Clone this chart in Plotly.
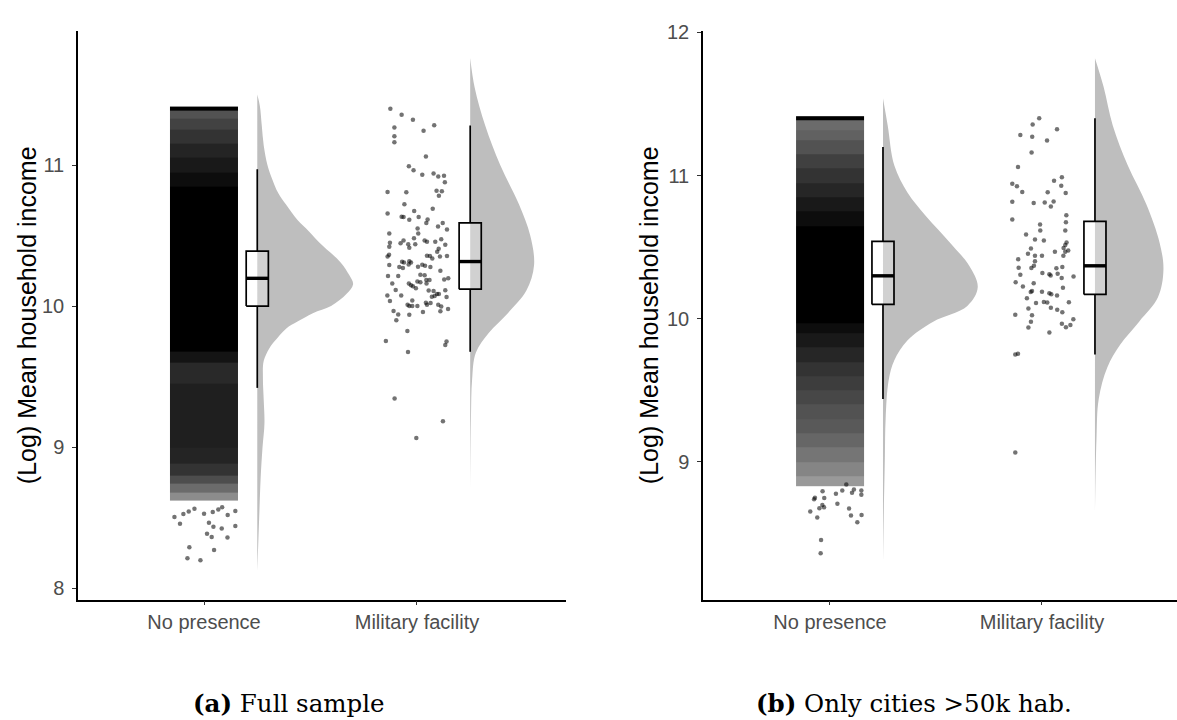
import plotly.graph_objects as go

# ---------------- data ----------------
categories = ["No presence", "Military facility"]
cat_pos = [1, 2]

# box statistics [No presence, Military facility]
a_box_lo = [9.42, 9.676]
a_box_q1 = [10.00, 10.12]
a_box_med = [10.197, 10.316]
a_box_q3 = [10.39, 10.59]
a_box_hi = [10.97, 11.28]

b_box_lo = [9.44, 9.75]
b_box_q1 = [10.10, 10.17]
b_box_med = [10.30, 10.37]
b_box_q3 = [10.54, 10.68]
b_box_hi = [11.20, 11.40]

# half-violin densities (relative width)
a_np_vy = [8.12, 8.5, 8.78, 9.0, 9.17, 9.34, 9.48, 9.61, 9.70, 9.75, 9.84, 9.89, 9.95, 10.0, 10.085, 10.155, 10.22, 10.31, 10.45, 10.53, 10.61, 10.72, 10.8, 10.92, 11.0, 11.14, 11.28, 11.42, 11.5]
a_np_vd = [0.0, 0.02, 0.035, 0.055, 0.075, 0.067, 0.059, 0.067, 0.125, 0.18, 0.30, 0.42, 0.58, 0.77, 0.93, 1.0, 0.96, 0.87, 0.65, 0.54, 0.42, 0.30, 0.22, 0.145, 0.106, 0.067, 0.047, 0.027, 0.0]
a_mil_vy = [8.70, 9.2, 9.48, 9.67, 9.81, 9.95, 10.11, 10.29, 10.5, 10.72, 11.0, 11.28, 11.55, 11.76]
a_mil_vd = [0.0, 0.012, 0.03, 0.088, 0.29, 0.59, 0.88, 1.0, 0.94, 0.765, 0.47, 0.235, 0.07, 0.0]
b_np_vy = [8.29, 8.62, 9.03, 9.30, 9.57, 9.71, 9.85, 9.98, 10.09, 10.22, 10.37, 10.53, 10.72, 10.88, 11.07, 11.35, 11.54]
b_np_vd = [0.0, 0.008, 0.02, 0.028, 0.06, 0.12, 0.26, 0.53, 0.89, 1.0, 0.91, 0.71, 0.45, 0.26, 0.12, 0.05, 0.0]
b_mil_vy = [8.65, 9.16, 9.44, 9.66, 9.82, 9.98, 10.15, 10.34, 10.53, 10.80, 11.07, 11.35, 11.62, 11.82]
b_mil_vd = [0.0, 0.022, 0.055, 0.18, 0.37, 0.645, 0.92, 1.0, 0.945, 0.75, 0.48, 0.26, 0.126, 0.0]

# Military facility points (value, jitter)
a_mil_y = [11.400, 11.358, 11.321, 11.283, 11.267, 11.244, 11.204, 11.162, 11.061, 10.991,
           10.963, 10.931, 10.940, 10.919, 10.924, 10.879, 10.809, 10.807, 10.818, 10.814,
           10.783, 10.723, 10.690, 10.657, 10.634, 10.632, 10.674, 10.613, 10.632, 10.615,
           10.590, 10.590, 10.564, 10.543, 10.515, 10.550, 10.515, 10.482, 10.449, 10.421,
           10.466, 10.445, 10.438, 10.414, 10.438, 10.466, 10.456, 10.456, 10.475, 10.407,
           10.435, 10.386, 10.365, 10.351, 10.356, 10.351, 10.356, 10.337, 10.358, 10.291,
           10.314, 10.309, 10.319, 10.309, 10.295, 10.277, 10.270, 10.279, 10.293, 10.286,
           10.277, 10.251, 10.213, 10.213, 10.223, 10.218, 10.186, 10.186, 10.160, 10.160,
           10.148, 10.141, 10.174, 10.169, 10.160, 10.197, 10.188, 10.115, 10.127, 10.111,
           10.108, 10.085, 10.085, 10.113, 10.076, 10.076, 10.036, 10.066, 10.071, 10.064,
           10.010, 10.040, 10.001, 10.001, 10.001, 10.024, 10.010, 10.022, 10.010, 9.998,
           9.966, 9.940, 9.938, 9.959, 9.964, 9.980, 9.900, 9.823, 9.753, 9.749,
           9.725, 9.674, 9.345, 9.183, 9.064]
a_mil_jit = [-0.125, -0.072, -0.019, 0.081, -0.106, 0.031, -0.106, -0.106, 0.042, -0.038,
             -0.016, 0.025, 0.078, 0.100, 0.127, 0.131, -0.138, -0.050, 0.092, 0.117,
             0.103, -0.059, 0.074, -0.138, -0.072, -0.063, -0.013, -0.036, 0.008, 0.050,
             0.044, 0.121, 0.099, 0.141, -0.130, 0.003, 0.006, -0.014, -0.127, -0.130,
             -0.063, -0.077, -0.041, -0.036, -0.008, 0.036, 0.047, 0.086, 0.114, 0.102,
             0.133, 0.095, -0.131, -0.138, 0.061, 0.108, 0.141, 0.072, 0.047, -0.130,
             -0.070, -0.061, -0.036, -0.028, -0.039, -0.083, -0.066, 0.005, 0.025, 0.038,
             0.063, 0.110, -0.136, -0.088, 0.016, 0.036, 0.044, 0.059, -0.116, -0.038,
             -0.028, -0.019, 0.002, 0.016, 0.045, 0.147, 0.128, -0.100, -0.005, 0.055,
             0.078, 0.094, 0.103, 0.133, -0.139, -0.074, -0.127, 0.070, 0.083, 0.139,
             -0.044, -0.022, -0.022, 0.002, -0.036, 0.042, 0.047, 0.064, 0.100, 0.114,
             -0.110, -0.088, -0.036, 0.028, 0.110, 0.146, -0.097, -0.045, -0.146, 0.139,
             0.133, -0.042, -0.105, 0.122, -0.003]

b_mil_y = [11.401, 11.357, 11.284, 11.272, 11.323, 11.245, 11.162, 11.061, 10.989, 10.964,
           10.943, 10.925, 10.930, 10.886, 10.884, 10.879, 10.817, 10.808, 10.812, 10.819,
           10.785, 10.693, 10.723, 10.674, 10.658, 10.617, 10.617, 10.589, 10.553, 10.546,
           10.532, 10.516, 10.495, 10.491, 10.477, 10.468, 10.454, 10.468, 10.440, 10.440,
           10.440, 10.415, 10.401, 10.357, 10.355, 10.371, 10.307, 10.320, 10.311, 10.302,
           10.353, 10.362, 10.314, 10.284, 10.256, 10.249, 10.226, 10.295, 10.217, 10.187,
           10.194, 10.189, 10.171, 10.178, 10.162, 10.143, 10.111, 10.118, 10.114, 10.116,
           10.072, 10.077, 10.063, 10.045, 10.028, 10.024, 9.980, 9.996, 9.966, 9.957,
           9.941, 9.939, 9.904, 9.750, 9.755, 9.066]
b_mil_jit = [-0.013, -0.044, -0.102, -0.046, 0.071, 0.024, -0.049, -0.113, 0.094, 0.057,
             -0.140, -0.118, 0.091, -0.093, 0.027, 0.112, -0.140, -0.039, 0.013, 0.055,
             0.042, -0.140, 0.115, 0.113, -0.009, 0.110, -0.008, -0.075, -0.033, 0.009,
             0.116, 0.110, 0.102, -0.052, 0.124, 0.061, -0.066, 0.110, -0.033, 0.000,
             0.101, -0.112, -0.033, -0.110, -0.050, -0.038, -0.102, 0.002, 0.035, 0.041,
             0.068, 0.096, 0.074, 0.093, -0.124, -0.039, -0.090, 0.149, 0.099, -0.053,
             -0.047, 0.000, 0.044, 0.035, 0.071, -0.071, -0.028, 0.009, 0.025, 0.127,
             -0.064, 0.042, 0.072, 0.096, -0.126, -0.047, -0.052, 0.148, 0.094, 0.134,
             0.113, -0.064, 0.035, -0.126, -0.113, -0.126]

# No presence: sparse lower-tail points (value, jitter)
a_np_tail_y = [8.504, 8.457, 8.525, 8.543, 8.562, 8.527, 8.539, 8.557, 8.574, 8.518, 8.546,
               8.464, 8.436, 8.422, 8.440, 8.385, 8.362, 8.359, 8.289, 8.270, 8.212, 8.198]
a_np_tail_jit = [-0.139, -0.113, -0.097, -0.072, -0.045, 0.000, 0.041, 0.067, 0.085, 0.111, 0.147,
                 0.023, 0.044, 0.083, 0.147, 0.014, 0.036, 0.110, -0.069, 0.047, -0.078, -0.017]
b_np_tail_y = [8.796, 8.750, 8.739, 8.748, 8.778, 8.801, 8.842, 8.785, 8.808, 8.801, 8.771,
               8.654, 8.612, 8.676, 8.699, 8.683, 8.708, 8.675, 8.626, 8.578, 8.629, 8.454, 8.362]
b_np_tail_jit = [-0.035, -0.071, -0.075, -0.027, 0.028, 0.058, 0.077, 0.104, 0.113, 0.148, 0.148,
                 -0.093, -0.060, -0.050, -0.036, -0.028, 0.035, 0.090, 0.099, 0.129, 0.149, -0.042, -0.044]

# No presence: dense jitter cloud, shading (0 = white, 1 = black) per value band
a_np_edges = [8.62, 8.68, 8.74, 8.80, 8.88, 9.0, 9.45, 9.6, 9.68, 10.85, 10.95, 11.05, 11.15,
              11.25, 11.33, 11.385, 11.415]
a_np_dark = [0.45, 0.58, 0.7, 0.8, 0.86, 0.88, 0.84, 0.92, 1.0, 0.95, 0.9, 0.86, 0.8, 0.74, 0.68, 1.0]
b_np_edges = [8.83, 8.9, 9.0, 9.1, 9.2, 9.3, 9.4, 9.5, 9.6, 9.7, 9.8, 9.9, 9.97, 10.65, 10.75,
              10.85, 10.95, 11.05, 11.15, 11.25, 11.32, 11.385, 11.415]
b_np_dark = [0.4, 0.48, 0.54, 0.6, 0.65, 0.68, 0.72, 0.76, 0.8, 0.85, 0.9, 0.95, 1.0, 0.95, 0.9,
             0.85, 0.8, 0.75, 0.68, 0.62, 0.58, 1.0]

a_yticks = [8, 9, 10, 11]
b_yticks = [9, 10, 11, 12]

# ---------------- styling constants ----------------
VIOLIN_COL = "#bebebe"
PT_COL = "rgba(0,0,0,0.55)"
BOX_OFF = 0.25
BOX_HALF = 0.052
JIT_HALF = 0.16
FONT = "Liberation Sans, Arial, sans-serif"

fig = go.Figure()


def add_panel(xa, ya, box, violins, npcloud, tails, mil_pts):
    lo, q1, med, q3, hi = box
    # violins
    for ci, (vy, vd, maxw) in enumerate(violins):
        base = cat_pos[ci] + BOX_OFF
        fig.add_trace(go.Scatter(
            x=[base + d * maxw for d in vd], y=vy, mode="lines",
            line=dict(width=0, shape="spline", smoothing=1.0), fill="toself",
            fillcolor=VIOLIN_COL, hoverinfo="skip", showlegend=False,
            xaxis=xa, yaxis=ya))
    # dense cloud for No presence
    edges, dark = npcloud
    c = cat_pos[0]
    fig.add_trace(go.Heatmap(
        x=[c - JIT_HALF, c + JIT_HALF], y=edges, z=[[d] for d in dark],
        zmin=0, zmax=1, colorscale=[[0, "#ffffff"], [1, "#000000"]],
        showscale=False, hoverinfo="skip", xaxis=xa, yaxis=ya))
    # sparse points
    ty, tj = tails
    fig.add_trace(go.Scatter(
        x=[cat_pos[0] + j for j in tj], y=ty, mode="markers",
        marker=dict(size=4.5, color=PT_COL, line=dict(width=0)),
        hoverinfo="skip", showlegend=False, xaxis=xa, yaxis=ya))
    my, mj = mil_pts
    fig.add_trace(go.Scatter(
        x=[cat_pos[1] + j for j in mj], y=my, mode="markers",
        marker=dict(size=4.5, color=PT_COL, line=dict(width=0)),
        hoverinfo="skip", showlegend=False, xaxis=xa, yaxis=ya))
    # boxes
    for ci in range(2):
        bc = cat_pos[ci] + BOX_OFF
        l, r = bc - BOX_HALF, bc + BOX_HALF
        fig.add_trace(go.Scatter(
            x=[bc, bc, None, bc, bc], y=[q3[ci], hi[ci], None, q1[ci], lo[ci]],
            mode="lines", line=dict(color="black", width=1.7),
            hoverinfo="skip", showlegend=False, xaxis=xa, yaxis=ya))
        fig.add_trace(go.Scatter(
            x=[l, r, r, l, l], y=[q1[ci], q1[ci], q3[ci], q3[ci], q1[ci]],
            mode="lines", fill="toself", fillcolor="rgba(255,255,255,0.3)",
            line=dict(color="black", width=1.7),
            hoverinfo="skip", showlegend=False, xaxis=xa, yaxis=ya))
        fig.add_trace(go.Scatter(
            x=[l, r], y=[med[ci], med[ci]], mode="lines",
            line=dict(color="black", width=3.4),
            hoverinfo="skip", showlegend=False, xaxis=xa, yaxis=ya))


add_panel("x", "y",
          (a_box_lo, a_box_q1, a_box_med, a_box_q3, a_box_hi),
          [(a_np_vy, a_np_vd, 0.45), (a_mil_vy, a_mil_vd, 0.30)],
          (a_np_edges, a_np_dark),
          (a_np_tail_y, a_np_tail_jit),
          (a_mil_y, a_mil_jit))
add_panel("x2", "y2",
          (b_box_lo, b_box_q1, b_box_med, b_box_q3, b_box_hi),
          [(b_np_vy, b_np_vd, 0.447), (b_mil_vy, b_mil_vd, 0.323)],
          (b_np_edges, b_np_dark),
          (b_np_tail_y, b_np_tail_jit),
          (b_mil_y, b_mil_jit))

W, H = 1177, 720
ydom = [1 - 598 / H, 1 - 22 / H]

common_x = dict(showgrid=False, zeroline=False, showline=True, linecolor="black", linewidth=1.5,
                ticks="outside", ticklen=4, tickwidth=1.2, tickcolor="#333333",
                tickvals=cat_pos, ticktext=categories,
                tickfont=dict(family=FONT, size=20, color="#4d4d4d"))
common_y = dict(showgrid=False, zeroline=False, showline=True, linecolor="black", linewidth=1.5,
                ticks="outside", ticklen=4, tickwidth=1.2, tickcolor="#333333",
                tickfont=dict(family=FONT, size=20, color="#4d4d4d"), ticklabelstandoff=4)

fig.update_layout(
    width=W, height=H, margin=dict(l=0, r=0, t=0, b=0),
    paper_bgcolor="white", plot_bgcolor="white", showlegend=False,
    xaxis=dict(common_x, domain=[78 / W, 566 / W], range=[0.408, 2.70], anchor="y"),
    yaxis=dict(common_y, domain=ydom, range=[7.919, 11.953], tickvals=a_yticks, anchor="x"),
    xaxis2=dict(common_x, domain=[703 / W, 1.0], range=[0.401, 2.637], anchor="y2"),
    yaxis2=dict(common_y, domain=ydom, range=[8.039, 12.012], tickvals=b_yticks, anchor="x2"),
    annotations=[
        dict(text="(Log) Mean household income", textangle=-90, x=27 / W, y=1 - 310 / H,
             xref="paper", yref="paper", xanchor="center", yanchor="middle", showarrow=False,
             font=dict(family=FONT, size=25, color="black")),
        dict(text="(Log) Mean household income", textangle=-90, x=649 / W, y=1 - 310 / H,
             xref="paper", yref="paper", xanchor="center", yanchor="middle", showarrow=False,
             font=dict(family=FONT, size=25, color="black")),
        dict(text="<b>(a)</b> Full sample", x=289 / W, y=1 - 703 / H,
             xref="paper", yref="paper", xanchor="center", yanchor="middle", showarrow=False,
             font=dict(family="DejaVu Serif, serif", size=24.5, color="black")),
        dict(text="<b>(b)</b> Only cities &gt;50k hab.", x=914 / W, y=1 - 703 / H,
             xref="paper", yref="paper", xanchor="center", yanchor="middle", showarrow=False,
             font=dict(family="DejaVu Serif, serif", size=24.5, color="black")),
    ],
)

fig.write_html("out.html", config={"displayModeBar": False},
               post_script="document.body.style.margin='0px';")
